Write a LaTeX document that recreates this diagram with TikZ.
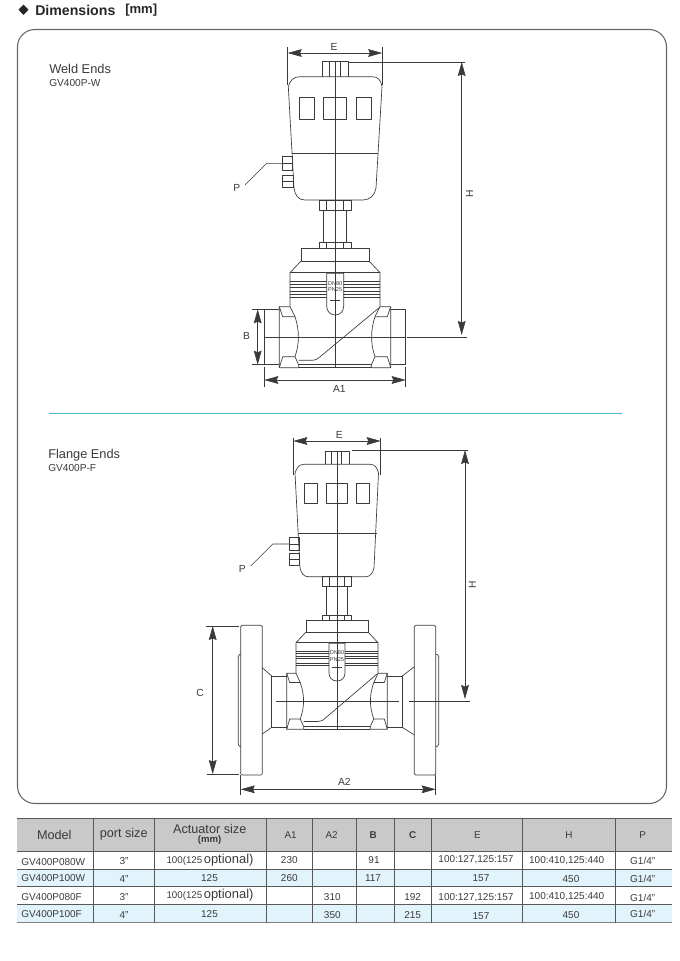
\documentclass[tikz,border=0pt]{standalone}
\usepackage{fontspec}
\setmainfont{Liberation Sans}
\usetikzlibrary{arrows.meta}
\definecolor{inkgray}{HTML}{3A3A3A}
\definecolor{headgray}{HTML}{C9C9C9}
\definecolor{rowblue}{HTML}{E2F4FB}
\definecolor{septeal}{HTML}{4DBBCF}
\tikzset{
	part/.style={draw=inkgray, line width=0.5pt, line join=round},
	dimline/.style={draw=inkgray, line width=0.45pt},
	dimtip/.tip={Stealth[length=10.5pt,width=5.8pt,inset=1.2pt]},
	dimarrow/.style={dimline, dimtip-dimtip},
	dimtext/.style={text=inkgray, inner sep=0pt, font=\fontsize{7.7}{9}\selectfont},
	platetext/.style={text=inkgray, inner sep=0pt, font=\fontsize{4.2}{5}\selectfont},
	headtext/.style={text=inkgray, inner sep=0pt, font=\fontsize{9.5}{11}\selectfont},
	headsmall/.style={text=inkgray, inner sep=0pt, font=\fontsize{7.4}{9}\selectfont},
	celltext/.style={text=inkgray, inner sep=0pt, font=\fontsize{7.5}{9}\selectfont},
	gridline/.style={draw=inkgray!85, line width=0.55pt}
}
\newcommand{\optsize}{\fontsize{7.3}{9}\selectfont 100(125\,\fontsize{9.7}{9}\selectfont optional)}
\begin{document}
\begin{tikzpicture}[x=0.75pt, y=-0.75pt]
	\useasboundingbox (0,0) rectangle (680,961);

	% title
	\fill[black!85] (23.5,4.5) -- (28.5,9.7) -- (23.5,14.9) -- (18.5,9.7) -- cycle;
	\node[anchor=west, inner sep=0pt, text=black!85, font=\fontsize{10.6}{12}\selectfont\bfseries] (title) at (35,10) {Dimensions};
	\node[anchor=west, inner sep=0pt, text=black!85, font=\fontsize{9.8}{12}\selectfont] (titleunit) at (125,10) {\textbf{[mm]}};

	% frame
	\draw[draw=black!60, line width=0.8pt, rounded corners=13pt] (17.5,29.5) rectangle (666.5,803.5);

	% separator
	\fill[septeal] (49,412.6) rectangle (622,413.6);

	% captions
	\node[anchor=west, inner sep=0pt, text=inkgray, font=\fontsize{9.6}{11}\selectfont] (weldname) at (49,68.5) {Weld Ends};
	\node[anchor=west, inner sep=0pt, text=inkgray, font=\fontsize{7.6}{9}\selectfont] (weldcode) at (49,83) {GV400P-W};
	\node[anchor=west, inner sep=0pt, text=inkgray, font=\fontsize{9.6}{11}\selectfont] (flangename) at (48,455) {Flange Ends};
	\node[anchor=west, inner sep=0pt, text=inkgray, font=\fontsize{7.6}{9}\selectfont] (flangecode) at (48,468) {GV400P-F};

	% ---------- weld ends valve ----------
	% actuator knob
	\draw[part] (322.7,76.7) -- (322.7,61.7) -- (348,61.7) -- (348,76.7);
	\draw[part] (329.3,61.7) -- (329.3,76.7);
	\draw[part] (340,61.7) -- (340,76.7);

	% actuator body
	\draw[part] (288.3,86.7) .. controls (290,80) and (294,76.7) .. (300,76.7) -- (372,76.7) .. controls (378,76.7) and (381,80) .. (382,86.7) -- (376,188) .. controls (375,195) and (370,200) .. (363,200) -- (305,200) .. controls (298,200) and (295,195) .. (294,188) -- cycle;
	\draw[part] (292.3,153.3) -- (378,153.3);
	\draw[part] (299,97) rectangle (314,119.3);
	\draw[part] (323.3,97) rectangle (346.3,119.3);
	\draw[part] (356,97) rectangle (371,119.3);

	% air ports
	\draw[part] (282.7,156.7) rectangle (292.7,170.7);
	\draw[part] (282.7,163.3) -- (292.7,163.3);
	\draw[part] (282.7,175) rectangle (293.7,187.3);
	\draw[part] (282.7,181) -- (293.7,181);

	% stem and nuts
	\draw[part] (319,200) rectangle (351.7,210.7);
	\draw[part] (326.7,200) -- (326.7,210.7);
	\draw[part] (343.3,200) -- (343.3,210.7);
	\draw[part] (323.5,210.7) -- (323.5,242.3);
	\draw[part] (346.7,210.7) -- (346.7,242.3);
	\draw[part] (319,242.3) rectangle (351.7,248.3);
	\draw[part] (326.7,242.3) -- (326.7,248.3);
	\draw[part] (343.3,242.3) -- (343.3,248.3);

	% bonnet
	\draw[part] (301,261) rectangle (369,248.3);
	\draw[part] (301,261) -- (290,272.7) -- (290,306.7);
	\draw[part] (369,261) -- (380,272.7) -- (380,306.7);
	\draw[part] (290,272.7) -- (380,272.7);
	\draw[part] (290,281.7) -- (380,281.7);
	\draw[part] (290,284.3) -- (380,284.3);
	\draw[part] (290,287.7) -- (380,287.7);
	\draw[part] (290,291) -- (380,291);
	\draw[part] (290,294.3) -- (380,294.3);
	\draw[part] (290,297.3) -- (380,297.3);

	% name plate
	\draw[part, fill=white] (326.7,273.3) -- (343.7,273.3) -- (343.7,306) .. controls (343.7,311.5) and (340,315) .. (335.2,315) .. controls (330.4,315) and (326.7,311.5) .. (326.7,306) -- cycle;
	\node[platetext] (weldDN) at (335.2,283.3) {DN80};
	\node[platetext] (weldPN) at (335.2,289.8) {PN25};
	\draw[inkgray, line width=0.7pt] (330,300) -- (340,300);
	\draw[inkgray, line width=0.7pt] (335.5,298) -- (335.5,300);

	% hex nuts
	\draw[part, fill=white] (279.3,306.7) -- (290,306.7) -- (295,316.7) .. controls (299.5,330) and (299.5,344) .. (295,356.7) -- (298.7,365) -- (298.7,367.7) -- (279.3,367.7) -- cycle;
	\draw[part] (279.3,306.7) -- (282.7,316.7) -- (295,316.7);
	\draw[part] (279.3,367.7) -- (282.7,356.7) -- (295,356.7);
	\draw[part, fill=white] (390.7,306.7) -- (380,306.7) -- (375,316.7) .. controls (370.5,330) and (370.5,344) .. (375,356.7) -- (371.3,365) -- (371.3,367.7) -- (390.7,367.7) -- cycle;
	\draw[part] (390.7,306.7) -- (387.3,316.7) -- (375,316.7);
	\draw[part] (390.7,367.7) -- (387.3,356.7) -- (375,356.7);

	% pipe ends and body
	\draw[part] (279.3,309.3) -- (264.3,309.3) -- (264.3,364.7) -- (279.3,364.7);
	\draw[part] (390.7,309.3) -- (405.7,309.3) -- (405.7,364.7) -- (390.7,364.7);
	\draw[part] (298.7,367.7) -- (371.3,367.7);
	\draw[part] (298.7,364.7) -- (371.3,364.7);
	\draw[part] (298.7,360.3) -- (312,360.3) .. controls (316,360.3) and (318,358.5) .. (321,356) -- (380,307);

	% center lines
	\draw[part] (335,61.7) -- (335,367.7);
	\draw[part] (264.3,337) -- (405.7,337);

	% dimension E
	\draw[dimline] (287.7,47) -- (287.7,85);
	\draw[dimline] (382.2,47) -- (382.2,85);
	\draw[dimarrow] (287.7,53) -- (382.2,53);
	\node[dimtext] (weldE) at (334,46.5) {E};

	% dimension H
	\draw[dimline] (349,62) -- (465,62);
	\draw[dimline] (406.7,337) -- (467.3,337);
	\draw[dimarrow] (461.7,62) -- (461.7,335);
	\node[dimtext, rotate=90] (weldH) at (469.5,194) {H};

	% dimension B
	\draw[dimline] (251.7,309.3) -- (264.3,309.3);
	\draw[dimline] (251.7,364.7) -- (264.3,364.7);
	\draw[dimarrow] (257.7,309.3) -- (257.7,364.7);
	\node[dimtext] (weldB) at (246.5,336) {B};

	% dimension A1
	\draw[dimline] (264.3,366.7) -- (264.3,386.7);
	\draw[dimline] (405.7,366.7) -- (405.7,386.7);
	\draw[dimarrow] (264.3,380) -- (405.7,380);
	\node[dimtext] (weldA) at (339.3,389) {A1};

	% port callout
	\draw[dimline] (282.7,163.3) -- (266.7,163.3) -- (245,185);
	\node[dimtext] (weldP) at (236.7,187.5) {P};

	% ---------- flange ends valve ----------
	% actuator knob
	\draw[part] (325.7,464.3) -- (325.7,451) -- (349.3,451) -- (349.3,464.3);
	\draw[part] (331.7,451) -- (331.7,464.3);
	\draw[part] (341.7,451) -- (341.7,464.3);

	% actuator body
	\draw[part] (295,473.3) .. controls (296.5,468) and (299,464.3) .. (304,464.3) -- (370,464.3) .. controls (375,464.3) and (377.5,468) .. (378.5,473.3) -- (374,568) .. controls (373,573) and (370,576.7) .. (366,576.7) -- (308,576.7) .. controls (304,576.7) and (301,573) .. (300,568) -- cycle;
	\draw[part] (297.7,533.3) -- (376.7,533.3);
	\draw[part] (304,483.3) rectangle (317.7,503.3);
	\draw[part] (326.7,483.3) rectangle (347.3,503.3);
	\draw[part] (356,483.3) rectangle (369.3,503.3);

	% air ports
	\draw[part] (289.3,537.7) rectangle (299,550);
	\draw[part] (289.3,544) -- (299,544);
	\draw[part] (289.3,553.3) rectangle (299.5,565.7);
	\draw[part] (289.3,559.3) -- (299.5,559.3);

	% stem and nuts
	\draw[part] (322,576.7) rectangle (351.7,586.4);
	\draw[part] (329.3,576.7) -- (329.3,586.4);
	\draw[part] (344.3,576.7) -- (344.3,586.4);
	\draw[part] (326.7,586.4) -- (326.7,615.3);
	\draw[part] (347.3,586.4) -- (347.3,615.3);
	\draw[part] (322,615.3) rectangle (351.7,620.7);
	\draw[part] (329.3,615.3) -- (329.3,620.7);
	\draw[part] (344.3,615.3) -- (344.3,620.7);

	% bonnet
	\draw[part] (306,632) rectangle (368,620.7);
	\draw[part] (306,632) -- (296,642.7) -- (296,673.3);
	\draw[part] (368,632) -- (378,642.7) -- (378,673.3);
	\draw[part] (296,642.7) -- (378,642.7);
	\draw[part] (296,651.7) -- (378,651.7);
	\draw[part] (296,653.5) -- (378,653.5);
	\draw[part] (296,656.7) -- (378,656.7);
	\draw[part] (296,658.5) -- (378,658.5);
	\draw[part] (296,663.3) -- (378,663.3);
	\draw[part] (296,665) -- (378,665);

	% name plate
	\draw[part, fill=white] (329,643.3) -- (345,643.3) -- (345,673) .. controls (345,678) and (341.5,681) .. (337,681) .. controls (332.5,681) and (329,678) .. (329,673) -- cycle;
	\node[platetext] (flangeDN) at (337,652.3) {DN80};
	\node[platetext] (flangePN) at (337,659.3) {PN25};
	\draw[inkgray, line width=0.7pt] (332,667.5) -- (342,667.5);
	\draw[inkgray, line width=0.7pt] (337.5,665.5) -- (337.5,667.5);

	% hex nuts
	\draw[part, fill=white] (286.7,673.3) -- (296,673.3) -- (300.2,682.5) .. controls (304.7,695) and (304.7,707) .. (300.2,719) -- (303.7,726.5) -- (303.7,729.3) -- (286.7,729.3) -- cycle;
	\draw[part] (286.7,673.3) -- (289.7,682.5) -- (300.2,682.5);
	\draw[part] (286.7,729.3) -- (289.7,719) -- (300.2,719);
	\draw[part, fill=white] (387.3,673.3) -- (378,673.3) -- (373.8,682.5) .. controls (369.3,695) and (369.3,707) .. (373.8,719) -- (370.3,726.5) -- (370.3,729.3) -- (387.3,729.3) -- cycle;
	\draw[part] (387.3,673.3) -- (384.3,682.5) -- (373.8,682.5);
	\draw[part] (387.3,729.3) -- (384.3,719) -- (373.8,719);

	% pipe ends and body
	\draw[part] (286.7,676) -- (271.7,676) -- (271.7,727.3) -- (286.7,727.3);
	\draw[part] (387.3,676) -- (402.3,676) -- (402.3,727.3) -- (387.3,727.3);
	\draw[part] (303.7,729.3) -- (370.3,729.3);
	\draw[part] (303.7,726.5) -- (370.3,726.5);
	\draw[part] (303.7,721.5) -- (318,721.5) .. controls (321.5,721.5) and (323.5,720) .. (326,717.5) -- (377,674);

	% flanges
	\draw[part] (271.7,676) -- (262.3,667.7);
	\draw[part] (271.7,727.3) -- (262.3,734);
	\draw[part] (402.3,676) -- (414.3,666.7);
	\draw[part] (402.3,727.3) -- (414.3,735);
	\draw[part, rounded corners=1pt] (240.7,625.3) rectangle (262.3,775);
	\draw[part, rounded corners=1pt] (414.3,625.3) rectangle (435.7,775);
	\draw[part, rounded corners=1pt] (240.7,654) -- (238.3,655) -- (238.3,745.7) -- (240.7,746.7);
	\draw[part, rounded corners=1pt] (435.7,654) -- (438.7,655) -- (438.7,745.7) -- (435.7,746.7);

	% center lines
	\draw[part] (337,451) -- (337,729.3);
	\draw[part] (275.7,701.3) -- (399,701.3);

	% dimension E
	\draw[dimline] (293.3,437.7) -- (293.3,475);
	\draw[dimline] (380.7,437.7) -- (380.7,475);
	\draw[dimarrow] (293.3,441) -- (380.7,441);
	\node[dimtext] (flangeE) at (339.3,435) {E};

	% dimension H
	\draw[dimline] (351.7,450) -- (468.3,450);
	\draw[dimline] (409.3,701.3) -- (470,701.3);
	\draw[dimarrow] (465,450) -- (465,699);
	\node[dimtext, rotate=90] (flangeH) at (472.3,585) {H};

	% dimension C
	\draw[dimline] (205.7,626) -- (239,626);
	\draw[dimline] (206.7,774) -- (239,774);
	\draw[dimarrow] (212.7,626) -- (212.7,774);
	\node[dimtext] (flangeC) at (200,693.3) {C};

	% dimension A2
	\draw[dimline] (240.7,775) -- (240.7,795);
	\draw[dimline] (435.7,775) -- (435.7,795);
	\draw[dimarrow] (240.7,789.3) -- (435.7,789.3);
	\node[dimtext] (flangeA) at (344.3,782.3) {A2};

	% port callout
	\draw[dimline] (289.3,544) -- (272.7,544) -- (250.7,566);
	\node[dimtext] (flangeP) at (242.3,568.5) {P};

	% ---------- table ----------
	% fills
	\fill[headgray] (17.3,818.3) rectangle (671.7,851.7);
	\fill[rowblue] (17.3,869.3) rectangle (671.7,886.7);
	\fill[rowblue] (17.3,904.7) rectangle (671.7,922.7);

	% rows
	\draw[gridline] (17.3,818.3) -- (671.7,818.3);
	\draw[gridline] (17.3,851.7) -- (671.7,851.7);
	\draw[gridline] (17.3,869.3) -- (671.7,869.3);
	\draw[gridline] (17.3,886.7) -- (671.7,886.7);
	\draw[gridline] (17.3,904.7) -- (671.7,904.7);
	\draw[draw=black!50, line width=1pt] (17.3,922.7) -- (671.7,922.7);

	% columns
	\draw[gridline] (93.3,818.3) -- (93.3,922.7);
	\draw[gridline] (154,818.3) -- (154,922.7);
	\draw[gridline] (266,818.3) -- (266,922.7);
	\draw[gridline] (312.7,818.3) -- (312.7,922.7);
	\draw[gridline] (356.7,818.3) -- (356.7,922.7);
	\draw[gridline] (394.3,818.3) -- (394.3,922.7);
	\draw[gridline] (431.7,818.3) -- (431.7,922.7);
	\draw[gridline] (522.3,818.3) -- (522.3,922.7);
	\draw[gridline] (615.7,818.3) -- (615.7,922.7);

	% header
	\node[headtext] (hmodel) at (54.3,835) {Model};
	\node[headtext] (hport) at (123.7,834) {port size};
	\node[headtext] (hact) at (209.7,829) {Actuator size};
	\node[inner sep=0pt, text=inkgray, font=\fontsize{7.2}{9}\selectfont\bfseries] (hunit) at (209.7,840.3) {(mm)};
	\node[headsmall] (hAone) at (290.7,835) {A1};
	\node[headsmall] (hAtwo) at (331.7,835) {A2};
	\node[inner sep=0pt, text=inkgray, font=\fontsize{7.4}{9}\selectfont\bfseries] (hB) at (373.3,835) {B};
	\node[inner sep=0pt, text=inkgray, font=\fontsize{7.4}{9}\selectfont\bfseries] (hC) at (412.7,835) {C};
	\node[headsmall] (hE) at (477.3,835) {E};
	\node[headsmall] (hH) at (569,835) {H};
	\node[headsmall] (hP) at (642.7,835) {P};

	% row 1
	\node[celltext, anchor=west] (amodel) at (21,861.7) {GV400P080W};
	\node[celltext] (aport) at (124,861) {3"};
	\node[celltext] (aact) at (210,860.5) {\optsize};
	\node[celltext] (aA) at (289.3,860) {230};
	\node[celltext] (aB) at (374,860) {91};
	\node[celltext] (aE) at (476,860) {100:127,125:157};
	\node[celltext] (aH) at (566.7,861) {100:410,125:440};
	\node[celltext] (aP) at (642.7,861) {G1/4"};

	% row 2
	\node[celltext, anchor=west] (bmodel) at (21,878.3) {GV400P100W};
	\node[celltext] (bport) at (124,879) {4"};
	\node[celltext] (bact) at (209.5,878.3) {125};
	\node[celltext] (bA) at (289.3,878) {260};
	\node[celltext] (bB) at (373,878) {117};
	\node[celltext] (bE) at (481,878.3) {157};
	\node[celltext] (bH) at (571,879) {450};
	\node[celltext] (bP) at (642.7,879) {G1/4"};

	% row 3
	\node[celltext, anchor=west] (cmodel) at (21,896.7) {GV400P080F};
	\node[celltext] (cport) at (124,896.7) {3"};
	\node[celltext] (cact) at (210,895.5) {\optsize};
	\node[celltext] (cA) at (332.3,897) {310};
	\node[celltext] (cC) at (412.7,897) {192};
	\node[celltext] (cE) at (476,897.5) {100:127,125:157};
	\node[celltext] (cH) at (566.7,897) {100:410,125:440};
	\node[celltext] (cP) at (642.7,897.5) {G1/4"};

	% row 4
	\node[celltext, anchor=west] (dmodel) at (21,914) {GV400P100F};
	\node[celltext] (dport) at (124,915) {4"};
	\node[celltext] (dact) at (209.5,914.5) {125};
	\node[celltext] (dA) at (332.3,915) {350};
	\node[celltext] (dC) at (412.7,915) {215};
	\node[celltext] (dE) at (481,916) {157};
	\node[celltext] (dH) at (571,915) {450};
	\node[celltext] (dP) at (642.7,914) {G1/4"};
\end{tikzpicture}
\end{document}
